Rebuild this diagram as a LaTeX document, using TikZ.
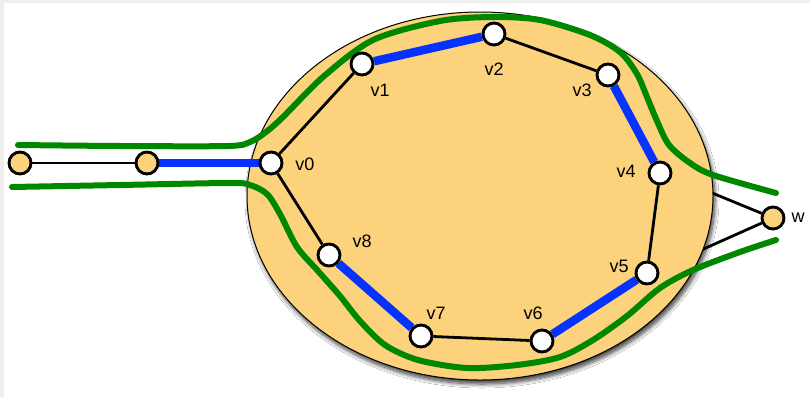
\documentclass[tikz,border=0pt]{standalone}
\usepackage{fontspec}
\setmainfont{Liberation Sans}
\usetikzlibrary{shadows.blur}
\definecolor{disk}{RGB}{252,210,124}
\definecolor{pathblue}{RGB}{5,50,255}
\definecolor{cutgreen}{RGB}{0,135,0}
\definecolor{frame}{RGB}{238,238,238}
\pgfdeclarelayer{back}
\pgfdeclarelayer{mid}
\pgfsetlayers{back,mid,main}
\begin{document}
\begin{tikzpicture}[x=1pt,y=-1pt,
  vtx/.style={circle,draw=black,line width=2.9pt,fill=white,minimum size=22pt,inner sep=0pt},
  outer/.style={vtx,fill=disk},
  lbl/.style={font=\fontsize{18}{21}\selectfont,inner sep=0pt},
  plain/.style={draw=black,line width=2.8pt},
  blueedge/.style={draw=pathblue,line width=8.5pt},
  greencurve/.style={draw=cutgreen,line width=6pt,line cap=round,line join=round}]
  % vertices
  \node[outer] (a) at (20,163) {};
  \node[outer] (b) at (147,163) {};
  \node[vtx] (v0) at (271,163) {};
  \node[vtx] (v1) at (362,64) {};
  \node[vtx] (v2) at (494,34) {};
  \node[vtx] (v3) at (608,75) {};
  \node[vtx] (v4) at (660,173) {};
  \node[vtx] (v5) at (647,273) {};
  \node[vtx] (v6) at (542,341) {};
  \node[vtx] (v7) at (421,336) {};
  \node[vtx] (v8) at (329,255) {};
  \node[outer] (w) at (773,218) {};
  \coordinate (e1) at (700,188);
  \coordinate (e2) at (690,255);

  \begin{pgfonlayer}{back}
    % page frame
    \fill[frame] (0,0) rectangle (810,397);
    \fill[white] (4,3) rectangle (810,397);
    % edges from w run under the disk
    \draw[plain] (w) -- (e1);
    \draw[plain] (w) -- (e2);
    % the disk
    \fill[disk,blur shadow={shadow xshift=2pt,shadow yshift=-4pt,shadow blur steps=8,shadow blur radius=4pt,shadow opacity=75}]
      (480,196) ellipse [x radius=233,y radius=184];
    \draw[black,line width=1pt] (480,196) ellipse [x radius=233,y radius=184];
  \end{pgfonlayer}
  \useasboundingbox (0,0) rectangle (810,397);

  \begin{pgfonlayer}{mid}
    % green cut curves
    \draw[greencurve] plot[smooth,tension=0.5] coordinates {
      (18,145) (120,146) (228,146) (250,142) (266,132) (283,117) (323,77)
      (373,40) (440,21) (493,17) (540,20) (590,35) (620,52) (637,74)
      (647,97) (657,121) (669,145) (690,163) (713,175) (776,193)};
    \draw[greencurve] plot[smooth,tension=0.5] coordinates {
      (12,187) (120,185) (230,183) (250,185) (267,194) (280,214) (297,247)
      (318,271) (340,296) (360,321) (385,345) (418,360) (467,368) (517,365)
      (560,357) (593,340) (627,316) (660,288) (693,270) (740,252) (776,240)};
    % edges
    \path[plain] (a) -- (b);
    \path[blueedge] (b) -- (v0);
    \path[plain] (v0) -- (v1);
    \path[blueedge] (v1) -- (v2);
    \path[plain] (v2) -- (v3);
    \path[blueedge] (v3) -- (v4);
    \path[plain] (v4) -- (v5);
    \path[blueedge] (v5) -- (v6);
    \path[plain] (v6) -- (v7);
    \path[blueedge] (v7) -- (v8);
    \path[plain] (v8) -- (v0);
  \end{pgfonlayer}

  % labels
  \node[lbl] (l0) at (305,164) {v0};
  \node[lbl] (l1) at (380,90) {v1};
  \node[lbl] (l2) at (494,69) {v2};
  \node[lbl] (l3) at (582,90) {v3};
  \node[lbl] (l4) at (626,171) {v4};
  \node[lbl] (l5) at (619,266) {v5};
  \node[lbl] (l6) at (533,313) {v6};
  \node[lbl] (l7) at (436,313) {v7};
  \node[lbl] (l8) at (362,241) {v8};
  \node[lbl] (lw) at (798,218) {w};
\end{tikzpicture}
\end{document}
